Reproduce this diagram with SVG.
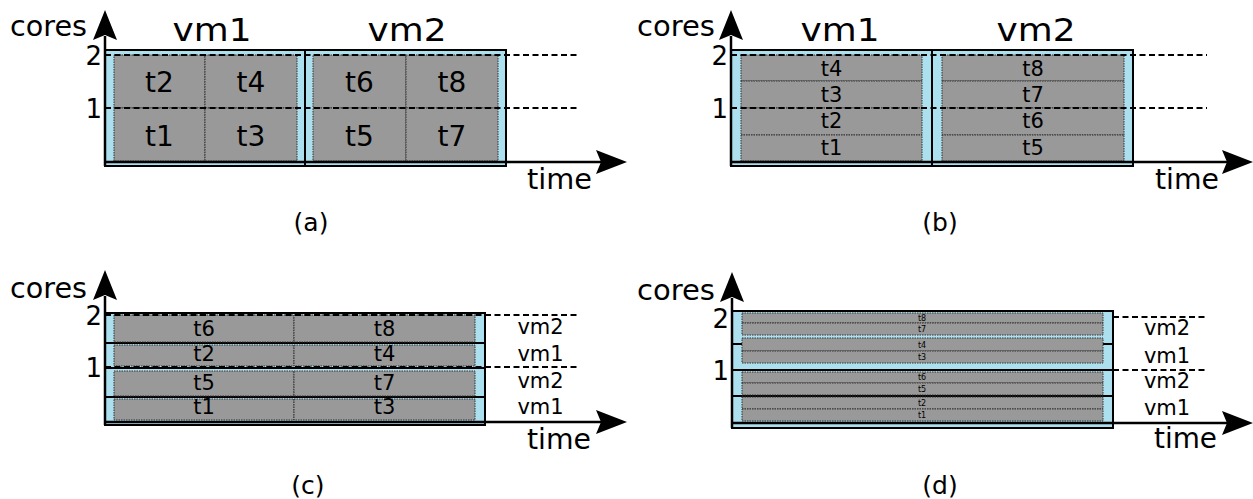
<svg xmlns="http://www.w3.org/2000/svg" width="1253" height="499" viewBox="0 0 1253 499">
<style>
text{font-family:"DejaVu Sans","Liberation Sans",sans-serif;fill:#000}
.vm{fill:#ade0ee;stroke:#000;stroke-width:2}
.row{fill:none;stroke:#000;stroke-width:2}
.task{fill:#999;stroke:#333;stroke-width:1;stroke-dasharray:1.5 1}
.dash{stroke:#000;stroke-width:2;stroke-dasharray:6 3.5;fill:none}
.axis{stroke:#000;stroke-width:2.5;fill:none}
.head{fill:#000}
.big{font-size:28px}
.vmh{font-size:32px;text-anchor:middle}
.num{font-size:26px;text-anchor:end}
.ta{font-size:28px;text-anchor:middle}
.tb{font-size:21px;text-anchor:middle}
.td{font-size:8px;text-anchor:middle}
.lab{font-size:21px;text-anchor:middle}
.cap{font-size:25px;text-anchor:middle}
</style>
<defs>
<path id="hu" d="M0,0 L12,30 L0,25 L-12,30 Z"/>
<path id="hr" d="M0,0 L-31,-12 L-26,0 L-31,12 Z"/>
</defs>

<!-- Panel (a) -->
<g id="panel-a">
<g id="a-vm1">
<rect class="vm" x="105" y="50" width="200" height="116"/>
<rect class="task" x="114" y="55" width="91" height="53"/>
<rect class="task" x="205" y="55" width="92" height="53"/>
<rect class="task" x="114" y="108" width="91" height="53"/>
<rect class="task" x="205" y="108" width="92" height="53"/>
<text class="ta" x="159.5" y="92">t2</text>
<text class="ta" x="251" y="92">t4</text>
<text class="ta" x="159.5" y="146">t1</text>
<text class="ta" x="251" y="146">t3</text>
</g>
<g id="a-vm2">
<rect class="vm" x="305" y="50" width="201" height="116"/>
<rect class="task" x="313" y="55" width="93" height="53"/>
<rect class="task" x="406" y="55" width="92" height="53"/>
<rect class="task" x="313" y="108" width="93" height="53"/>
<rect class="task" x="406" y="108" width="92" height="53"/>
<text class="ta" x="359.5" y="92">t6</text>
<text class="ta" x="452" y="92">t8</text>
<text class="ta" x="359.5" y="146">t5</text>
<text class="ta" x="452" y="146">t7</text>
</g>
<g id="a-connectors">
<line class="dash" x1="105" y1="55" x2="580" y2="55"/>
<line class="dash" x1="105" y1="108" x2="580" y2="108"/>
<line class="axis" x1="105" y1="166" x2="105" y2="36"/>
<use href="#hu" class="head" x="105" y="10"/>
<line class="axis" x1="104" y1="162" x2="602" y2="162"/>
<use href="#hr" class="head" x="627" y="162"/>
</g>
<text class="big" x="10" y="36" textLength="77" lengthAdjust="spacingAndGlyphs">cores</text>
<text class="vmh" x="212" y="41" textLength="79" lengthAdjust="spacingAndGlyphs">vm1</text>
<text class="vmh" x="407" y="41" textLength="79" lengthAdjust="spacingAndGlyphs">vm2</text>
<text class="num" x="102" y="65">2</text>
<text class="num" x="102" y="118">1</text>
<text class="big" x="527" y="189" textLength="65" lengthAdjust="spacingAndGlyphs">time</text>
<text class="cap" x="311" y="231">(a)</text>
</g>

<!-- Panel (b) -->
<g id="panel-b">
<g id="b-vm1">
<rect class="vm" x="731" y="50" width="201" height="116"/>
<rect class="task" x="741" y="55" width="181" height="26"/>
<rect class="task" x="741" y="81" width="181" height="27"/>
<rect class="task" x="741" y="108" width="181" height="27"/>
<rect class="task" x="741" y="135" width="181" height="26"/>
<text class="tb" x="831.5" y="76">t4</text>
<text class="tb" x="831.5" y="102">t3</text>
<text class="tb" x="831.5" y="128">t2</text>
<text class="tb" x="831.5" y="155">t1</text>
</g>
<g id="b-vm2">
<rect class="vm" x="932" y="50" width="201" height="116"/>
<rect class="task" x="942" y="55" width="182" height="26"/>
<rect class="task" x="942" y="81" width="182" height="27"/>
<rect class="task" x="942" y="108" width="182" height="27"/>
<rect class="task" x="942" y="135" width="182" height="26"/>
<text class="tb" x="1033" y="76">t8</text>
<text class="tb" x="1033" y="102">t7</text>
<text class="tb" x="1033" y="128">t6</text>
<text class="tb" x="1033" y="155">t5</text>
</g>
<g id="b-connectors">
<line class="dash" x1="731" y1="55" x2="1207" y2="55"/>
<line class="dash" x1="731" y1="108" x2="1207" y2="108"/>
<line class="axis" x1="731" y1="166" x2="731" y2="36"/>
<use href="#hu" class="head" x="731" y="10"/>
<line class="axis" x1="730" y1="162" x2="1228" y2="162"/>
<use href="#hr" class="head" x="1253" y="162"/>
</g>
<text class="big" x="637" y="36" textLength="78" lengthAdjust="spacingAndGlyphs">cores</text>
<text class="vmh" x="840" y="41" textLength="79" lengthAdjust="spacingAndGlyphs">vm1</text>
<text class="vmh" x="1036" y="41" textLength="79" lengthAdjust="spacingAndGlyphs">vm2</text>
<text class="num" x="728" y="65">2</text>
<text class="num" x="728" y="118">1</text>
<text class="big" x="1155" y="189" textLength="64" lengthAdjust="spacingAndGlyphs">time</text>
<text class="cap" x="940" y="231">(b)</text>
</g>

<!-- Panel (c) -->
<g id="panel-c">
<g id="c-box">
<rect class="vm" x="105" y="313" width="380" height="112"/>
<line class="row" x1="105" y1="343" x2="485" y2="343"/>
<line class="row" x1="105" y1="368" x2="485" y2="368"/>
<line class="row" x1="105" y1="397" x2="485" y2="397"/>
</g>
<g id="c-tasks">
<rect class="task" x="114" y="315" width="180" height="27"/>
<rect class="task" x="294" y="315" width="181" height="27"/>
<rect class="task" x="114" y="345" width="180" height="21"/>
<rect class="task" x="294" y="345" width="181" height="21"/>
<rect class="task" x="114" y="371" width="180" height="25"/>
<rect class="task" x="294" y="371" width="181" height="25"/>
<rect class="task" x="114" y="399" width="180" height="21"/>
<rect class="task" x="294" y="399" width="181" height="21"/>
<text class="tb" x="204" y="336">t6</text>
<text class="tb" x="384.5" y="336">t8</text>
<text class="tb" x="204" y="361">t2</text>
<text class="tb" x="384.5" y="361">t4</text>
<text class="tb" x="204" y="390">t5</text>
<text class="tb" x="384.5" y="390">t7</text>
<text class="tb" x="204" y="414">t1</text>
<text class="tb" x="384.5" y="414">t3</text>
</g>
<g id="c-connectors">
<line class="dash" x1="105" y1="315" x2="580" y2="315"/>
<line class="dash" x1="105" y1="367" x2="580" y2="367"/>
<line class="axis" x1="105" y1="425" x2="105" y2="296"/>
<use href="#hu" class="head" x="105" y="270"/>
<line class="axis" x1="104" y1="422" x2="602" y2="422"/>
<use href="#hr" class="head" x="627" y="422"/>
</g>
<text class="big" x="10" y="298" textLength="77" lengthAdjust="spacingAndGlyphs">cores</text>
<text class="num" x="102" y="325">2</text>
<text class="num" x="102" y="377">1</text>
<text class="lab" x="540.5" y="334">vm2</text>
<text class="lab" x="540.5" y="361">vm1</text>
<text class="lab" x="540.5" y="388">vm2</text>
<text class="lab" x="540.5" y="414">vm1</text>
<text class="big" x="527" y="449" textLength="64" lengthAdjust="spacingAndGlyphs">time</text>
<text class="cap" x="308" y="494">(c)</text>
</g>

<!-- Panel (d) -->
<g id="panel-d">
<g id="d-box">
<rect class="vm" x="732" y="311" width="381" height="117"/>
<line class="row" x1="732" y1="344" x2="1113" y2="344"/>
<line class="row" x1="732" y1="370" x2="1113" y2="370"/>
<line class="row" x1="732" y1="396" x2="1113" y2="396"/>
</g>
<g id="d-tasks">
<rect class="task" x="742" y="313" width="361" height="10"/>
<rect class="task" x="742" y="323" width="361" height="12"/>
<rect class="task" x="742" y="338" width="361" height="13"/>
<rect class="task" x="742" y="351" width="361" height="12"/>
<rect class="task" x="742" y="372" width="361" height="11"/>
<rect class="task" x="742" y="383" width="361" height="12"/>
<rect class="task" x="742" y="397" width="361" height="12"/>
<rect class="task" x="742" y="409" width="361" height="12"/>
<text class="td" x="922" y="321">t8</text>
<text class="td" x="922" y="332">t7</text>
<text class="td" x="922" y="348">t4</text>
<text class="td" x="922" y="360">t3</text>
<text class="td" x="922" y="380">t6</text>
<text class="td" x="922" y="392">t5</text>
<text class="td" x="922" y="406">t2</text>
<text class="td" x="922" y="418">t1</text>
</g>
<g id="d-connectors">
<line class="dash" x1="1113" y1="317" x2="1208" y2="317"/>
<line class="dash" x1="1113" y1="370" x2="1208" y2="370"/>
<line class="axis" x1="732" y1="428" x2="732" y2="298"/>
<use href="#hu" class="head" x="732" y="272"/>
<line class="axis" x1="731" y1="423" x2="1228" y2="423"/>
<use href="#hr" class="head" x="1253" y="423"/>
</g>
<text class="big" x="637" y="300" textLength="78" lengthAdjust="spacingAndGlyphs">cores</text>
<text class="num" x="729" y="328">2</text>
<text class="num" x="729" y="380">1</text>
<text class="lab" x="1167" y="335">vm2</text>
<text class="lab" x="1167" y="363">vm1</text>
<text class="lab" x="1167" y="388">vm2</text>
<text class="lab" x="1167" y="415">vm1</text>
<text class="big" x="1154" y="448" textLength="63" lengthAdjust="spacingAndGlyphs">time</text>
<text class="cap" x="940" y="494">(d)</text>
</g>
</svg>
